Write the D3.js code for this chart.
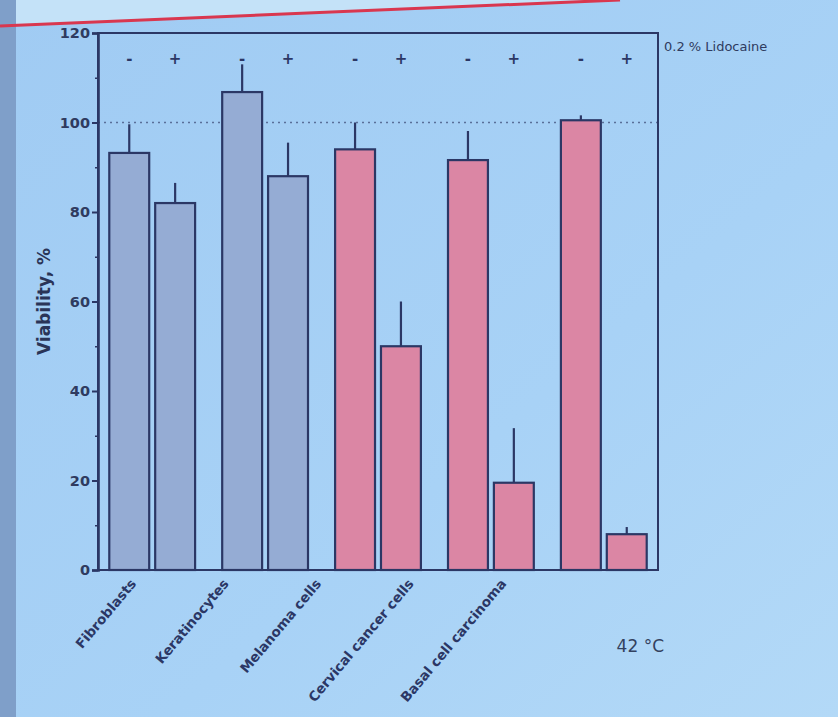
<!DOCTYPE html>
<html>
<head>
<meta charset="utf-8">
<script src="https://cdn.jsdelivr.net/npm/d3@7"></script>
<style>
  html, body { margin: 0; padding: 0; background: #a6cff5; }
  svg { display: block; }
</style>
</head>
<body>
<div id="chart"></div>
<script>
var categories = ['Fibroblasts', 'Keratinocytes', 'Melanoma cells', 'Cervical cancer cells', 'Basal cell carcinoma'];
var cellType = ['normal', 'normal', 'cancer', 'cancer', 'cancer'];
var treatments = ['-', '+'];
var viabilityWithout = [93.2, 106.8, 94, 91.6, 100.5];
var viabilityWith = [82, 88, 50, 19.5, 8];
var errorWithout = [6.4, 6.2, 6, 6.5, 1.1];
var errorWith = [4.5, 7.5, 10, 12.2, 1.6];
var yTicks = [0, 20, 40, 60, 80, 100, 120];
var yMinorTicks = [10, 30, 50, 70, 90, 110];
var referenceLine = [100];

var width = 838, height = 717;
var margin = { left: 98, right: 180, top: 33, bottom: 147 };

var svg = d3.select('#chart')
  .append('svg')
  .attr('width', width)
  .attr('height', height);

// slide background
var defs = svg.append('defs');
var grad = defs.append('linearGradient')
  .attr('id', 'bg')
  .attr('x1', 0).attr('y1', 0).attr('x2', 1).attr('y2', 1);
grad.append('stop').attr('offset', '0%').attr('stop-color', '#a0cbf3');
grad.append('stop').attr('offset', '60%').attr('stop-color', '#a8d2f6');
grad.append('stop').attr('offset', '100%').attr('stop-color', '#b3d9f7');

svg.append('rect').attr('width', width).attr('height', height).attr('fill', 'url(#bg)');
svg.append('path')
  .attr('d', 'M0,0 L620,0 L0,26 Z')
  .attr('fill', '#c4e2f8');
svg.append('rect').attr('x', 0).attr('y', 0).attr('width', 16).attr('height', height).attr('fill', '#7f9fc9');
svg.append('line')
  .attr('x1', 0).attr('y1', 26).attr('x2', 620).attr('y2', 0)
  .attr('stroke', '#d9374f').attr('stroke-width', 3);

var x = d3.scaleBand()
  .domain(categories)
  .range([margin.left, width - margin.right])
  .paddingInner(0.24)
  .paddingOuter(0.1);

var xSub = d3.scaleBand()
  .domain(treatments)
  .range([0, x.bandwidth()])
  .paddingInner(0.13);

var y = d3.scaleLinear()
  .domain([0, 120])
  .range([height - margin.bottom, margin.top]);

var ink = '#2b3765';
var fillColor = { normal: '#95acd4', cancer: '#db86a4' };

var plotRight = width - margin.right;

// dotted line at 100 %
svg.selectAll('line.ref')
  .data(referenceLine)
  .enter()
  .append('line')
  .attr('class', 'ref')
  .attr('x1', margin.left).attr('x2', plotRight)
  .attr('y1', function(d) { return y(d); })
  .attr('y2', function(d) { return y(d); })
  .attr('stroke', '#5a6f99')
  .attr('stroke-width', 1.6)
  .attr('stroke-dasharray', '2,4');

var bars = [];
categories.forEach(function(c, i) {
  bars.push({ cat: c, trt: '-', value: viabilityWithout[i], err: errorWithout[i], type: cellType[i] });
  bars.push({ cat: c, trt: '+', value: viabilityWith[i], err: errorWith[i], type: cellType[i] });
});

function barCenter(d) {
  return x(d.cat) + xSub(d.trt) + xSub.bandwidth() / 2;
}

// upper error bars only, no caps
svg.selectAll('line.err')
  .data(bars)
  .enter()
  .append('line')
  .attr('class', 'err')
  .attr('x1', barCenter)
  .attr('x2', barCenter)
  .attr('y1', function(d) { return y(d.value); })
  .attr('y2', function(d) { return y(d.value + d.err); })
  .attr('stroke', ink)
  .attr('stroke-width', 2.2);

svg.selectAll('rect.bar')
  .data(bars)
  .enter()
  .append('rect')
  .attr('class', 'bar')
  .attr('x', function(d) { return x(d.cat) + xSub(d.trt); })
  .attr('y', function(d) { return y(d.value); })
  .attr('width', xSub.bandwidth())
  .attr('height', function(d) { return y(0) - y(d.value); })
  .attr('fill', function(d) { return fillColor[d.type]; })
  .attr('stroke', ink)
  .attr('stroke-width', 2.2);

// frame
svg.append('rect')
  .attr('x', margin.left).attr('y', margin.top)
  .attr('width', plotRight - margin.left)
  .attr('height', y(0) - margin.top)
  .attr('fill', 'none')
  .attr('stroke', ink)
  .attr('stroke-width', 2);

var yAxis = svg.append('g')
  .attr('transform', 'translate(' + margin.left + ',0)')
  .call(d3.axisLeft(y).tickValues(yTicks).tickSize(6).tickPadding(2).tickFormat(d3.format('d')));
yAxis.select('.domain').attr('stroke', ink).attr('stroke-width', 2.6);
yAxis.selectAll('.tick line').attr('stroke', ink).attr('stroke-width', 2);
yAxis.selectAll('.tick text')
  .attr('fill', '#2f3b60')
  .style('font-family', 'DejaVu Sans, sans-serif')
  .style('font-weight', 'bold')
  .style('font-size', '14.5px');

svg.append('g')
  .attr('transform', 'translate(' + margin.left + ',0)')
  .call(d3.axisLeft(y).tickValues(yMinorTicks).tickSize(3).tickFormat(''))
  .call(function(g) {
    g.select('.domain').remove();
    g.selectAll('.tick line').attr('stroke', ink).attr('stroke-width', 1.5);
  });

svg.append('text')
  .attr('transform', 'translate(50,' + y(60) + ') rotate(-90)')
  .attr('text-anchor', 'middle')
  .attr('fill', '#2a3457')
  .style('font-family', 'DejaVu Sans, sans-serif')
  .style('font-weight', 'bold')
  .style('font-size', '17px')
  .text('Viability, %');

// - / + lidocaine markers
svg.selectAll('text.trt')
  .data(bars)
  .enter()
  .append('text')
  .attr('class', 'trt')
  .attr('x', barCenter)
  .attr('y', y(113))
  .attr('text-anchor', 'middle')
  .attr('fill', ink)
  .style('font-family', 'DejaVu Sans, sans-serif')
  .style('font-weight', 'bold')
  .style('font-size', '15px')
  .text(function(d) { return d.trt; });

svg.append('text')
  .attr('x', plotRight + 6)
  .attr('y', y(116))
  .attr('fill', '#2f3b60')
  .style('font-family', 'DejaVu Sans, sans-serif')
  .style('font-size', '13px')
  .text('0.2 % Lidocaine');

// rotated category labels
var labelX = d3.scalePoint()
  .domain(categories)
  .range([137, 507]);

svg.selectAll('text.cat')
  .data(categories)
  .enter()
  .append('text')
  .attr('class', 'cat')
  .attr('transform', function(d) { return 'translate(' + labelX(d) + ',' + (y(0) + 14) + ') rotate(-50)'; })
  .attr('text-anchor', 'end')
  .attr('fill', '#2b3765')
  .style('font-family', 'DejaVu Sans, sans-serif')
  .style('font-weight', 'bold')
  .style('font-size', '13.5px')
  .text(function(d) { return d; });

svg.append('text')
  .attr('x', 664)
  .attr('y', 652)
  .attr('text-anchor', 'end')
  .attr('fill', '#33415f')
  .style('font-family', 'DejaVu Sans, sans-serif')
  .style('font-size', '17px')
  .text('42 °C');
</script>
</body>
</html>
